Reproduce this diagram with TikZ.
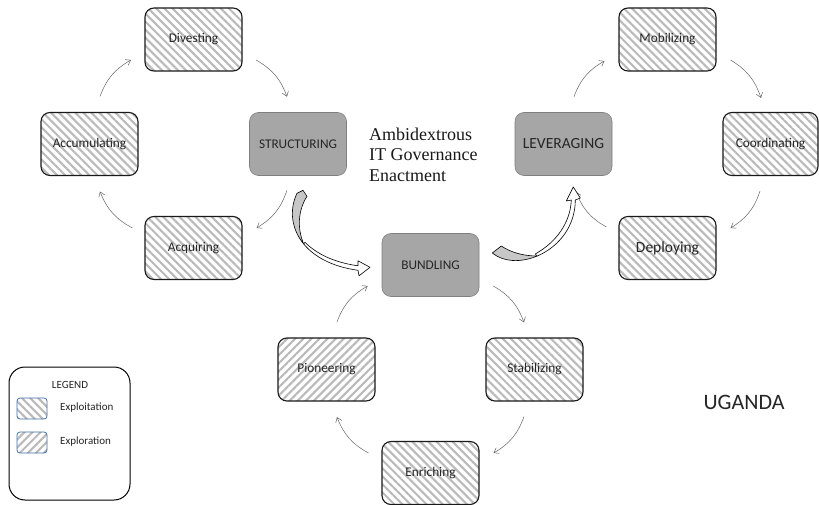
\documentclass[tikz,border=0pt]{standalone}
\usepackage{fontspec}
\setmainfont{Carlito}
\newfontfamily\titleserif{Liberation Serif}
\usetikzlibrary{arrows.meta,patterns.meta,calc}

\begin{document}
\begin{tikzpicture}[x=1pt,y=-1pt,
  box/.style={rectangle, rounded corners=9pt, minimum width=97pt, minimum height=63pt,
    inner sep=0pt, text=black!85, font=\fontsize{13.3}{15}\selectfont},
  exploit/.style={box, draw=black!90, line width=1.1pt,
    pattern={Lines[angle=-45,distance=5.7pt,line width=2.1pt]}, pattern color=black!27},
  explore/.style={box, draw=black!90, line width=1.1pt,
    pattern={Lines[angle=45,distance=5.7pt,line width=2.1pt]}, pattern color=black!27},
  phase/.style={box, fill=black!35, draw=black!50, line width=0.6pt},
  bigtext/.style={font=\fontsize{15.5}{18}\selectfont},
  cyc/.style={draw=black!60, line width=0.5pt, bend left=20,
    -{Straight Barb[length=4.5pt,width=6.5pt]}},
  swatch/.style={rectangle, rounded corners=3pt, minimum width=30pt, minimum height=21pt,
    inner sep=0pt, draw={rgb,255:red,65;green,113;blue,170}, line width=0.8pt},
  legtext/.style={font=\fontsize{11}{13}\selectfont, text=black!85, inner sep=0pt},
  ribbon/.style={draw=black, line width=0.6pt, line join=round},
]
\useasboundingbox (0,0) rectangle (819,505);
\fill[white] (0,0) rectangle (819,505);

% left cycle
\node[exploit] (div) at (193.5,39.5) {Divesting};
\node[exploit] (acc) at (89.5,144) {Accumulating};
\node[phase]   (str) at (298,144) {STRUCTURING};
\node[exploit] (acq) at (193.5,248) {Acquiring};

% right cycle
\node[phase, bigtext] (lev) at (563.5,144) {LEVERAGING};
\node[exploit] (mob) at (667.5,39.5) {Mobilizing};
\node[exploit, minimum width=95pt] (coo) at (770.5,144) {Coordinating};
\node[exploit, bigtext] (dep) at (667.5,248) {Deploying};

% bottom cycle
\node[phase]   (bun) at (430.5,265) {BUNDLING};
\node[explore] (pio) at (326.5,369.5) {Pioneering};
\node[exploit] (sta) at (534.5,369.5) {Stabilizing};
\node[exploit] (enr) at (430.5,473) {Enriching};

% title and country
\node[anchor=west, align=left, inner sep=0pt, text=black!90,
      font=\titleserif\fontsize{18}{20.5}\selectfont] (title) at (369,154.5)
  {Ambidextrous\\IT Governance\\Enactment};
\node[font=\fontsize{22}{26}\selectfont, text=black!85] (country) at (744,402) {UGANDA};

% cycle arrows
\draw[cyc] ($(acc.north)+(10.5,-15.5)$) to ($(div.west)+(-13,20.5)$);
\draw[cyc] ($(div.east)+(13,20.5)$) to ($(str.north)+(-11,-15.5)$);
\draw[cyc] ($(str.south)+(-11,14.5)$) to ($(acq.east)+(14,-20)$);
\draw[cyc] ($(acq.west)+(-12,-20)$) to ($(acc.south)+(10.5,15.5)$);

\draw[cyc] ($(lev.north)+(10.5,-15.5)$) to ($(mob.west)+(-14,21.5)$);
\draw[cyc] ($(mob.east)+(14,20.5)$) to ($(coo.north)+(-9.5,-14)$);
\draw[cyc] ($(coo.south)+(-10.5,15)$) to ($(dep.east)+(14,-20)$);
\draw[cyc] ($(dep.west)+(-12,-21)$) to ($(lev.south)+(12.5,16)$);

\draw[cyc] ($(pio.north)+(10.5,-15)$) to ($(bun.west)+(-14,21)$);
\draw[cyc] ($(bun.east)+(14,21)$) to ($(sta.north)+(-10.5,-15)$);
\draw[cyc] ($(sta.south)+(-10.5,15)$) to ($(enr.east)+(14,-20)$);
\draw[cyc] ($(enr.west)+(-13,-20)$) to ($(pio.south)+(10.5,15)$);

% curved ribbon arrow: structuring -> bundling
\begin{scope}[shift={(str.south)}]
  \filldraw[ribbon, fill=black!22]
    (-1,17.5) -- (5,14.5) -- (9,20.5)
    .. controls (0,34.5) and (-1,52.5) .. (5.7,68.2)
    .. controls (-7,52.7) and (-8.7,33.5) .. cycle;
  \filldraw[ribbon, fill=white]
    (5.7,68.2) .. controls (16.1,80.8) and (33.9,90.9) .. (60,94.5)
    -- (61,100) -- (72,91.5) -- (60,85) -- (60,90)
    .. controls (35,86.5) and (18,77.5) .. (7,66.5) -- cycle;
\end{scope}

% curved ribbon arrow: bundling -> leveraging
\begin{scope}[shift={(bun.east)}]
  \filldraw[ribbon, fill=black!22]
    (13,-12) .. controls (24,-3) and (41,-2) .. (58,-9)
    .. controls (43,-9) and (31,-13) .. (22,-19) -- cycle;
  \filldraw[ribbon, fill=white]
    (58,-9) .. controls (81,-19) and (96,-40) .. (96,-65)
    -- (101,-67) -- (94,-78) -- (87,-64) -- (92,-65)
    .. controls (91,-42) and (77,-23) .. (56,-11) -- cycle;
\end{scope}

% legend
\node[draw=black, line width=1pt, rounded corners=16pt, minimum width=121pt,
      minimum height=133pt, inner sep=0pt] (legend) at (69.5,433.5) {};
\node[legtext] (legtitle) at (70,385) {LEGEND};
\node[swatch, pattern={Lines[angle=-45,distance=5.7pt,line width=2.1pt]},
      pattern color=black!27] (swA) at (32,408.5) {};
\node[swatch, pattern={Lines[angle=45,distance=5.7pt,line width=2.1pt]},
      pattern color=black!27] (swB) at (32,442.5) {};
\node[legtext, anchor=west] (labA) at (60,408) {Exploitation};
\node[legtext, anchor=west] (labB) at (60,442) {Exploration};
\end{tikzpicture}
\end{document}
